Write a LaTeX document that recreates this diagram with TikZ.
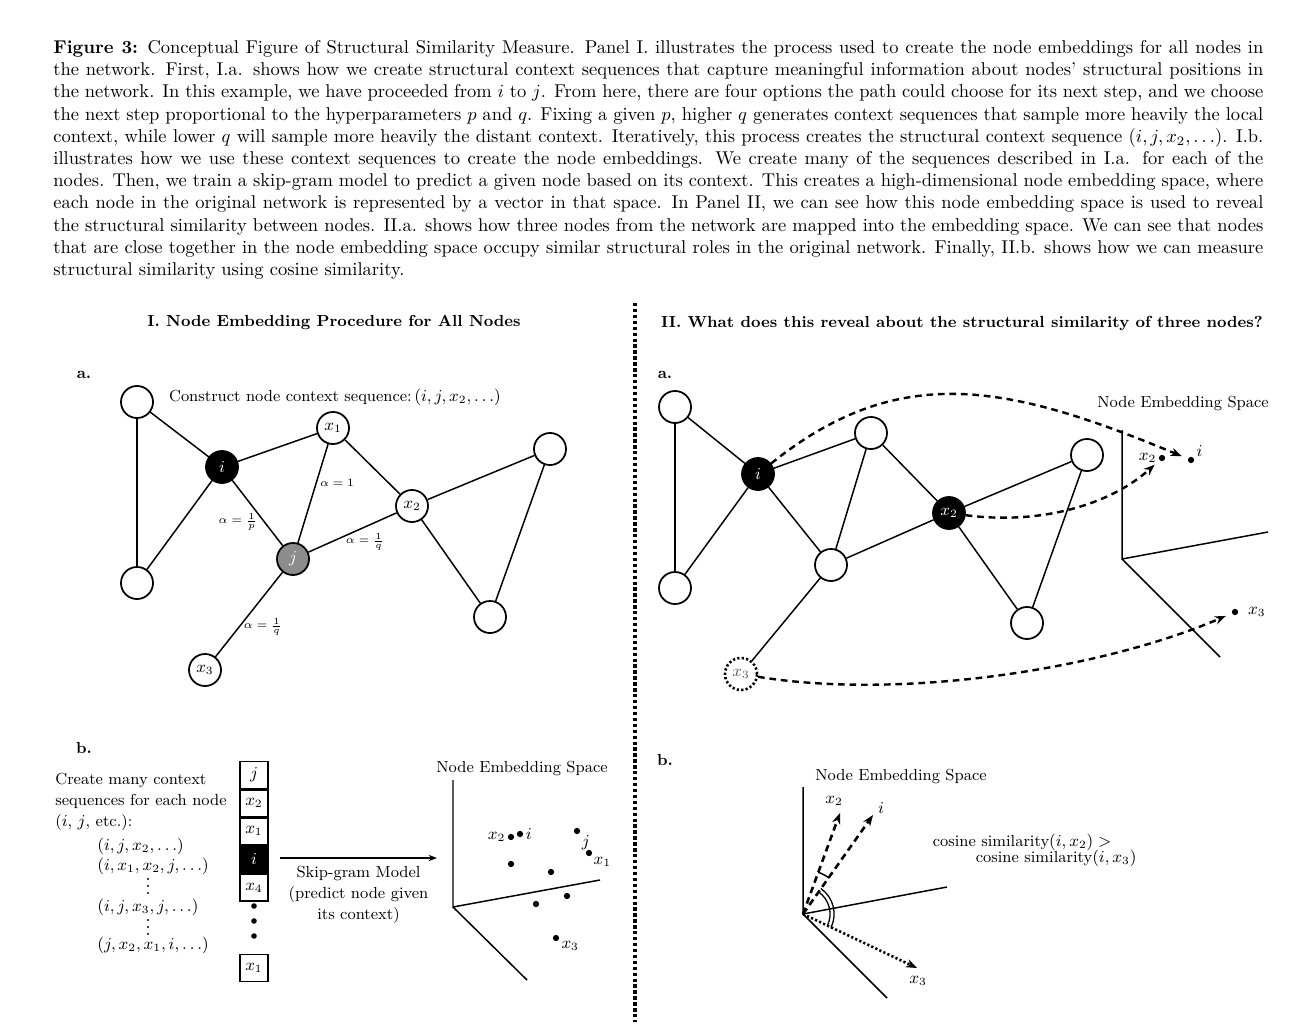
\documentclass[tikz,border=0pt]{standalone}
\usepackage{amsmath,amssymb}
\usepackage{fontspec}
\usetikzlibrary{arrows.meta,positioning,calc}
\definecolor{walkgray}{HTML}{8C8C8C}
\newcommand{\figsize}{\fontsize{8.65}{11.2}\selectfont}
\tikzset{
  >={Stealth[length=2.1mm,width=1.6mm]},
  gnode/.style={circle,draw=black,line width=.95pt,fill=white,minimum size=17.3pt,inner sep=0pt,font=\figsize},
  curnode/.style={gnode,fill=black,text=white},
  prevnode/.style={gnode,fill=walkgray,text=white},
  ghostnode/.style={gnode,line width=1.4pt,dash pattern=on 1.2pt off 1.2pt,text=black!65},
  edge/.style={line width=.8pt},
  alphalbl/.style={font=\fontsize{6}{7}\selectfont,inner sep=0pt},
  axis/.style={line width=.8pt},
  emb/.style={circle,fill=black,minimum size=3.4pt,inner sep=0pt},
  seqdot/.style={circle,fill=black,minimum size=1.1pt,inner sep=0pt},
  lbl/.style={font=\figsize,inner sep=1pt},
  figtext/.style={font=\figsize},
  seqline/.style={font=\figsize,anchor=west,inner sep=0pt},
  seqcell/.style={draw=black,line width=.8pt,minimum width=15.1pt,minimum height=14.4pt,inner sep=0pt,font=\figsize},
  mapflow/.style={->,line width=1.3pt,dash pattern=on 3.6pt off 2.6pt,shorten >=3.5pt},
  vecflow/.style={->,line width=1.4pt,dash pattern=on 3.6pt off 2.4pt},
  dotflow/.style={->,line width=1.4pt,dash pattern=on 1.2pt off 1.2pt},
  paneltitle/.style={font=\figsize\bfseries},
  sublabel/.style={font=\figsize\bfseries},
  divider/.style={line width=2pt,dash pattern=on 1.8pt off 1.4pt},
}

\begin{document}
\begin{tikzpicture}[x=0.54pt,y=-0.54pt]
  \useasboundingbox (0,0) rectangle (1298,1026);
  % caption
  \node[anchor=north west,inner sep=0pt,text width=653.4pt,align=justify] (caption) at (53,40) {\textbf{Figure 3:} Conceptual Figure of Structural Similarity Measure. Panel I. illustrates the process used to create the node embeddings for all nodes in the network. First, I.a. shows how we create structural context sequences that capture meaningful information about nodes' structural positions in the network. In this example, we have proceeded from $i$ to $j$. From here, there are four options the path could choose for its next step, and we choose the next step proportional to the hyperparameters $p$ and $q$. Fixing a given $p$, higher $q$ generates context sequences that sample more heavily the local context, while lower $q$ will sample more heavily the distant context. Iteratively, this process creates the structural context sequence $(i, j, x_2, \ldots)$. I.b. illustrates how we use these context sequences to create the node embeddings. We create many of the sequences described in I.a. for each of the nodes. Then, we train a skip-gram model to predict a given node based on its context. This creates a high-dimensional node embedding space, where each node in the original network is represented by a vector in that space. In Panel II, we can see how this node embedding space is used to reveal the structural similarity between nodes. II.a. shows how three nodes from the network are mapped into the embedding space. We can see that nodes that are close together in the node embedding space occupy similar structural roles in the original network. Finally, II.b. shows how we can measure structural similarity using cosine similarity.};

  % panel titles and divider
  \node[paneltitle] (titleI) at (334,323) {I. Node Embedding Procedure for All Nodes};
  \node[paneltitle] (titleII) at (962,323) {II. What does this reveal about the structural similarity of three nodes?};
  \draw[divider] (635,303) -- (635,1022);

  % I.a  random walk on the network
  \node[sublabel] (Ia) at (84,375) {a.};
  \node[gnode] (Itl) at (137,402) {};
  \node[curnode] (Ii) at (222,467) {$i$};
  \node[gnode] (Ibl) at (137,583) {};
  \node[gnode] (Itop) at (333,428) {$x_1$};
  \node[gnode] (Ix2) at (412,506) {$x_2$};
  \node[prevnode] (Imid) at (293,559) {$j$};
  \node[gnode] (Irt) at (550,449) {};
  \node[gnode] (Irb) at (490,617) {};
  \node[gnode] (Ix3) at (205,670) {$x_3$};
  \node[figtext] (Ictx) at (335,397) {Construct node context sequence:\,$(i, j, x_2, \ldots)$};
  \node[alphalbl] (alphaA) at (337,483) {$\alpha = 1$};
  \node[alphalbl] (alphaB) at (238,522) {$\alpha = \frac{1}{p}$};
  \node[alphalbl] (alphaC) at (365,542) {$\alpha = \frac{1}{q}$};
  \node[alphalbl] (alphaD) at (263,627) {$\alpha = \frac{1}{q}$};

  % II.a  same network, three nodes mapped
  \node[sublabel] (IIa) at (665,375) {a.};
  \node[gnode] (IItl) at (675,407) {};
  \node[curnode] (IIi) at (758,474) {$i$};
  \node[gnode] (IIbl) at (675,588) {};
  \node[gnode] (IItop) at (871,433) {};
  \node[curnode] (IIx2) at (949,513) {$x_2$};
  \node[gnode] (IImid) at (831,565) {};
  \node[gnode] (IIrt) at (1087,455) {};
  \node[gnode] (IIrb) at (1027,623) {};
  \node[ghostnode] (IIx3) at (741,674) {$x_3$};

  \foreach \p in {I,II}{
    \foreach \a/\b in {tl/i,tl/bl,bl/i,i/top,i/mid,top/mid,top/x2,mid/x2,x2/rt,x2/rb,rt/rb,mid/x3}
      \draw[edge] (\p\a) -- (\p\b);
  }

  \coordinate (Fo) at (1122,559);
  \draw[axis] (1122,430) -- (Fo) -- (1268,532);
  \draw[axis] (Fo) -- (1220,657);
  \node[figtext] (Ftitle) at (1183,404) {Node Embedding Space};
  \node[emb,label={[lbl]left:$x_2$}] (Fx2) at (1162,458) {};
  \node[emb,label={[lbl]20:$i$}] (Fi) at (1191,460) {};
  \node[emb,label={[lbl,xshift=4pt]right:$x_3$}] (Fx3) at (1235,612) {};
  \draw[mapflow] (IIi) .. controls (900,360) and (1010,385) .. (Fi);
  \draw[mapflow] (IIx2) .. controls (1040,525) and (1110,505) .. (Fx2);
  \draw[mapflow] (IIx3) .. controls (900,700) and (1100,670) .. (Fx3);

  % I.b  context sequences and skip-gram
  \node[sublabel] (Ib) at (84,748) {b.};
  \node[anchor=north west,align=left,font=\figsize,inner sep=0pt] (Ibtext) at (55,773) {Create many context\\sequences for each node\\($i$, $j$, etc.):};
  \node[seqline] (seqA) at (97,846) {$(i, j, x_2, \ldots)$};
  \node[seqline] (seqB) at (97,866) {$(i, x_1, x_2, j, \ldots)$};
  \node[seqline] (seqC) at (97,907) {$(i, j, x_3, j, \ldots)$};
  \node[seqline] (seqD) at (97,945) {$(j, x_2, x_1, i, \ldots)$};
  \foreach \y in {879,886,893,920,927,934}
    \node[seqdot] at (148,\y) {};

  \node[seqcell] (cellA) at (254,775) {$j$};
  \node[seqcell,below=0pt of cellA] (cellB) {$x_2$};
  \node[seqcell,below=0pt of cellB] (cellC) {$x_1$};
  \node[seqcell,below=0pt of cellC,fill=black,text=white] (cellD) {$i$};
  \node[seqcell,below=0pt of cellD] (cellE) {$x_4$};
  \node[emb,minimum size=3pt] (gapA) at (254,906) {};
  \node[emb,minimum size=3pt] (gapB) at (254,921) {};
  \node[emb,minimum size=3pt] (gapC) at (254,936) {};
  \node[seqcell] (cellF) at (254,968) {$x_1$};

  \coordinate (skipstart) at (280,858);
  \coordinate (skipend) at (437,858);
  \draw[->,line width=.7pt,>={Stealth[length=1.6mm,width=1.2mm]}] (skipstart) -- node[below=1pt,align=center,font=\figsize] {Skip-gram Model\\(predict node given\\its context)} (skipend);

  \coordinate (Eo) at (453,907);
  \draw[axis] (453,780) -- (Eo) -- (600,880);
  \draw[axis] (Eo) -- (527,980);
  \node[figtext] (Etitle) at (522,768) {Node Embedding Space};
  \node[emb,label={[lbl]left:$x_2$}] (Ex2) at (511,837) {};
  \node[emb,label={[lbl]right:$i$}] (Ei) at (520,834) {};
  \node[emb,label={[lbl]-40:$j$}] (Ej) at (577,831) {};
  \node[emb,label={[lbl]-45:$x_1$}] (Ex1) at (589,853) {};
  \node[emb] (Ea) at (511,864) {};
  \node[emb] (Eb) at (551,872) {};
  \node[emb] (Ec) at (567,896) {};
  \node[emb] (Ed) at (536,904) {};
  \node[emb,label={[lbl]-20:$x_3$}] (Ex3) at (556,938) {};

  % II.b  cosine similarity
  \node[sublabel] (IIb) at (665,760) {b.};
  \coordinate (Go) at (803,914);
  \draw[axis] (803,787) -- (Go) -- (947,887);
  \draw[axis] (Go) -- (887,998);
  \node[figtext] (Gtitle) at (901,776) {Node Embedding Space};
  \coordinate (Gx2) at (840,813);
  \coordinate (Gi) at (873,815);
  \coordinate (Gx3) at (917,968);
  \draw[vecflow] (Go) -- (Gx2);
  \draw[vecflow] (Go) -- (Gi);
  \draw[dotflow] (Go) -- (Gx3);
  \node[lbl] (Gx2lbl) at (834,801) {$x_2$};
  \node[lbl] (Gilbl) at (881,808) {$i$};
  \node[lbl] (Gx3lbl) at (918,981) {$x_3$};
  \draw[line width=.8pt] ([shift={(70:24pt)}]Go) arc[start angle=70,end angle=54,radius=24pt];
  \draw[line width=.7pt] ([shift={(55:14.6pt)}]Go) arc[start angle=55,end angle=-26,radius=14.6pt];
  \draw[line width=.7pt] ([shift={(55:16.8pt)}]Go) arc[start angle=55,end angle=-26,radius=16.8pt];
  \node[figtext,anchor=east] (cosA) at (1118,842) {cosine similarity$(i, x_2) >$};
  \node[figtext,anchor=east] (cosB) at (1143,858) {cosine similarity$(i, x_3)$};
\end{tikzpicture}
\end{document}
